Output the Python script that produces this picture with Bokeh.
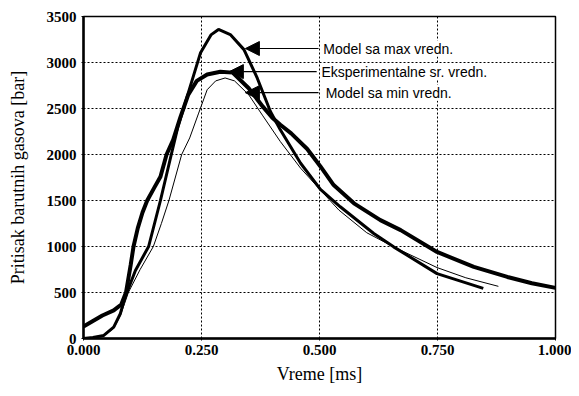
from bokeh.plotting import figure
from bokeh.models import Range1d, FixedTicker, NumeralTickFormatter, Arrow, NormalHead, Label, Grid
from bokeh.embed import file_html
from bokeh.resources import INLINE

# Experimental mean values
exp_t = [0, 0.02, 0.04, 0.064, 0.08, 0.09, 0.1, 0.106, 0.115, 0.125, 0.135, 0.15, 0.163, 0.176,
         0.19, 0.205, 0.222, 0.24, 0.262, 0.29, 0.316, 0.35, 0.38, 0.40, 0.417, 0.44, 0.474, 0.502,
         0.53, 0.573, 0.629, 0.672, 0.749, 0.827, 0.898, 0.95, 1.0]
exp_p = [130, 190, 250, 305, 370, 500, 800, 1000, 1200, 1370, 1500, 1640, 1759, 2000,
         2160, 2400, 2650, 2800, 2870, 2900, 2890, 2720, 2520, 2400, 2323, 2230, 2060, 1870,
         1668, 1469, 1287, 1178, 941, 778, 669, 600, 550]

# Model with max values
max_t = [0, 0.02, 0.043, 0.064, 0.078, 0.085, 0.092, 0.11, 0.138, 0.163, 0.186, 0.2, 0.222,
         0.248, 0.27, 0.286, 0.311, 0.34, 0.368, 0.396, 0.417, 0.46, 0.502, 0.544, 0.615, 0.657,
         0.749, 0.847]
max_p = [0, 10, 33, 123, 269, 396, 500, 740, 1000, 1500, 2000, 2300, 2670,
         3107, 3300, 3359, 3304, 3140, 2832, 2468, 2268, 1905, 1620, 1432, 1141, 996,
         705, 545]

# Model with min values
min_t = [0, 0.02, 0.043, 0.064, 0.078, 0.087, 0.095, 0.12, 0.148, 0.165, 0.181, 0.208, 0.225,
         0.244, 0.262, 0.28, 0.30, 0.32, 0.35, 0.38, 0.417, 0.46, 0.502, 0.541, 0.6, 0.657,
         0.749, 0.81, 0.879]
min_p = [0, 10, 30, 110, 250, 380, 500, 750, 1000, 1250, 1500, 2000, 2180,
         2450, 2704, 2800, 2832, 2800, 2650, 2420, 2141, 1851, 1614, 1396, 1150, 996,
         771, 660, 567]

x_ticks = [0.0, 0.25, 0.5, 0.75, 1.0]
y_ticks = [0, 500, 1000, 1500, 2000, 2500, 3000, 3500]

labels = ["Model sa max vredn.", "Eksperimentalne sr. vredn.", "Model sa min vredn."]

p = figure(width=571, height=388, output_backend="svg", toolbar_location=None,
           x_range=Range1d(0, 1), y_range=Range1d(0, 3500),
           min_border_left=83, min_border_right=16, min_border_top=16, min_border_bottom=50)
p.background_fill_color = "white"
p.border_fill_color = "white"
p.outline_line_color = "black"
p.outline_line_width = 1.5
p.grid.visible = False

p.add_layout(Grid(dimension=0, ticker=FixedTicker(ticks=x_ticks[1:-1]),
                  grid_line_color="black", grid_line_dash="2 2", grid_line_width=1))
p.add_layout(Grid(dimension=1, ticker=FixedTicker(ticks=y_ticks[1:-1]),
                  grid_line_color="black", grid_line_dash="2 2", grid_line_width=1))

p.xaxis.ticker = FixedTicker(ticks=x_ticks)
p.yaxis.ticker = FixedTicker(ticks=y_ticks)
p.xaxis.formatter = NumeralTickFormatter(format="0.000")

for ax in (p.xaxis, p.yaxis):
    ax.axis_line_color = "black"
    ax.axis_line_width = 2.5
    ax.major_tick_line_color = "black"
    ax.major_tick_in = 0
    ax.major_tick_out = 2
    ax.minor_tick_line_color = None
    ax.major_label_text_font = "Liberation Serif"
    ax.major_label_text_font_style = "bold"
    ax.major_label_text_font_size = "15px"
    ax.major_label_text_color = "black"
    ax.axis_label_text_font = "Liberation Serif"
    ax.axis_label_text_font_style = "normal"
    ax.axis_label_text_font_size = "18px"
    ax.axis_label_text_color = "black"

p.xaxis.axis_label = "Vreme [ms]"
p.yaxis.axis_label = "Pritisak barutnih gasova [bar]"
p.xaxis.major_label_standoff = 4
p.xaxis.axis_label_standoff = 6
p.yaxis.major_label_standoff = 5
p.yaxis.axis_label_standoff = 16

p.line(min_t, min_p, line_color="black", line_width=1)
p.line(max_t, max_p, line_color="black", line_width=3)
p.line(exp_t, exp_p, line_color="black", line_width=4)

# annotation arrows (tip at curve, tail near text)
arrow_specs = [
    (0.343, 3152, 0.498, 0.508),
    (0.309, 2901, 0.494, 0.504),
    (0.343, 2672, 0.498, 0.513),
]
for (tip_x, yv, tail_x, text_x), lab in zip(arrow_specs, labels):
    p.add_layout(Arrow(end=NormalHead(size=14, fill_color="black", line_color="black"),
                       x_start=tail_x, y_start=yv, x_end=tip_x, y_end=yv,
                       line_color="black", line_width=1.2))
    p.add_layout(Label(x=text_x, y=yv, text=lab, text_font="Liberation Sans",
                       text_font_size="14px", text_baseline="middle", text_align="left",
                       text_color="black", background_fill_color="white"))

open("out.html", "w").write(file_html(p, INLINE))
